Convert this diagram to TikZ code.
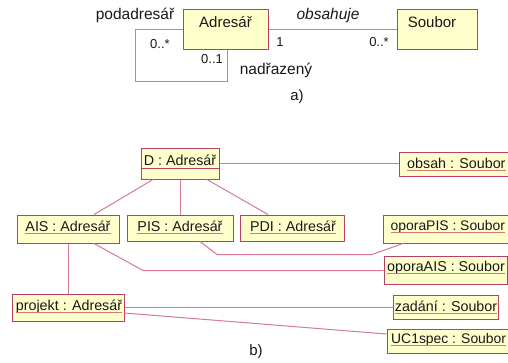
\documentclass[tikz,border=0pt]{standalone}
\usepackage{fontspec}
\setmainfont{Liberation Sans}
\definecolor{boxfill}{RGB}{255,255,204}
\definecolor{boxline}{RGB}{184,64,100}
\definecolor{linkc}{RGB}{214,120,152}
\definecolor{ulinec}{RGB}{214,120,120}
\definecolor{ink}{RGB}{25,25,25}
\begin{document}
\begin{tikzpicture}[x=1pt,y=-1pt,
  box/.style={draw=boxline, fill=boxfill, line width=1pt, inner sep=0pt},
  link/.style={draw=linkc, line width=1pt},
  role/.style={font=\fontsize{15.5}{18}\selectfont, text=ink, inner sep=0pt},
  mult/.style={font=\fontsize{13}{15}\selectfont, text=ink, inner sep=0pt},
  cname/.style={font=\fontsize{15}{17}\selectfont, text=ink, inner sep=0pt},
  oname/.style={font=\fontsize{14.3}{17}\selectfont, text=ink, inner sep=0pt},
  uline/.style={draw=ulinec, line width=0.7pt}
]
\clip (0,0) rectangle (508,362);
\fill[white] (0,0) rectangle (508,362);

% ---------- a) class diagram ----------
\node[box, minimum width=85pt, minimum height=40pt] (adr) at (225.5,29.5) {};
\node[cname] (adrT) at (225.5,22) {Adresář};
\node[box, minimum width=80pt, minimum height=40pt] (soub) at (437,29.5) {};
\node[cname] (soubT) at (432,22) {Soubor};

% association and the self-association
\draw[link] (adr.east) -- (soub.west);
\draw[link] (adr.west) -| ++(-47,52) -| ([xshift=1.5pt]adr.south);

\node[role] (rSub) at (135,15) {podadresář};
\node[role] (rSup) at (276,70) {nadřazený};
\node[role, font=\fontsize{15.5}{18}\selectfont\itshape] (rCont) at (328,15) {obsahuje};
\node[mult] (m1) at (160,44) {0..*};
\node[mult] (m2) at (212,59) {0..1};
\node[mult] (m3) at (280,42) {1};
\node[mult] (m4) at (379,42) {0..*};
\node[cname] (capA) at (297,97) {a)};

% ---------- b) object diagram ----------
\node[box, minimum width=78pt, minimum height=31pt] (D) at (180,163.5) {};
\draw[draw=boxline, line width=1pt] (D.west) ++(0,4.5) -- +(78,0);
\node[oname] (DT) at (180,160.5) {D : Adresář};

\node[box, minimum width=121pt, minimum height=24pt] (obsah) at (459.5,164) {};
\node[oname, anchor=west] (obsahT) at (407,163) {obsah : Soubor};

\node[box, minimum width=102pt, minimum height=28pt] (AIS) at (68,229) {};
\node[oname] (AIST) at (68,226.5) {AIS : Adresář};
\node[box, minimum width=106pt, minimum height=26pt] (PIS) at (180,228) {};
\node[oname] (PIST) at (180,226.5) {PIS : Adresář};
\node[box, minimum width=104pt, minimum height=26pt] (PDI) at (292,228) {};
\node[oname] (PDIT) at (293,226.5) {PDI : Adresář};

\node[box, minimum width=132pt, minimum height=28pt] (opP) at (449,229) {};
\node[oname, anchor=west, font=\fontsize{13.9}{17}\selectfont] (opPT) at (390.5,227) {oporaPIS : Soubor};
\node[box, minimum width=123pt, minimum height=28pt] (opA) at (445.5,270.5) {};
\node[oname] (opAT) at (446,268) {oporaAIS : Soubor};

\node[box, minimum width=112pt, minimum height=27pt] (proj) at (68,307.5) {};
\node[oname] (projT) at (69,306.5) {projekt : Adresář};
\node[box, minimum width=105pt, minimum height=24pt] (zad) at (445.5,307.5) {};
\node[oname] (zadT) at (446,306.5) {zadání : Soubor};
\node[box, minimum width=128pt, minimum height=24pt] (uc) at (451,341) {};
\node[oname, anchor=west, font=\fontsize{13.9}{17}\selectfont] (ucT) at (391,340) {UC1spec : Soubor};

% underlined object names
\foreach \t in {obsahT,AIST,PIST,PDIT,opPT,opAT,projT,zadT,ucT}
  \draw[uline] ([yshift=-2pt]\t.base west) -- ([yshift=-2pt]\t.base east);

% links
\draw[link] (D.east) -- (D.east -| obsah.west);
\draw[link] ([xshift=-27pt]D.south) -- ([xshift=26pt]AIS.north);
\draw[link] (D.south) -- (PIS.north);
\draw[link] ([xshift=27pt]D.south) -- ([xshift=-24pt]PDI.north);
\draw[link] (AIS.south) -- (proj.north);
\coordinate (bA) at (143,270.5);
\draw[link] ([xshift=26pt]AIS.south) -- (bA) -- (opA.west);
\coordinate (bP1) at (217,254.5);
\coordinate (bP2) at (372,254.5);
\draw[link] ([xshift=20pt]PIS.south) -- (bP1) -- (bP2) -- ([xshift=-46pt]opP.south);
\draw[link] (proj.east) -- (proj.east -| zad.west);
\draw[link] ([yshift=-5.5pt]proj.east) -- ([yshift=7pt]uc.west);

\node[cname] (capB) at (256,352) {b)};
\end{tikzpicture}
\end{document}
